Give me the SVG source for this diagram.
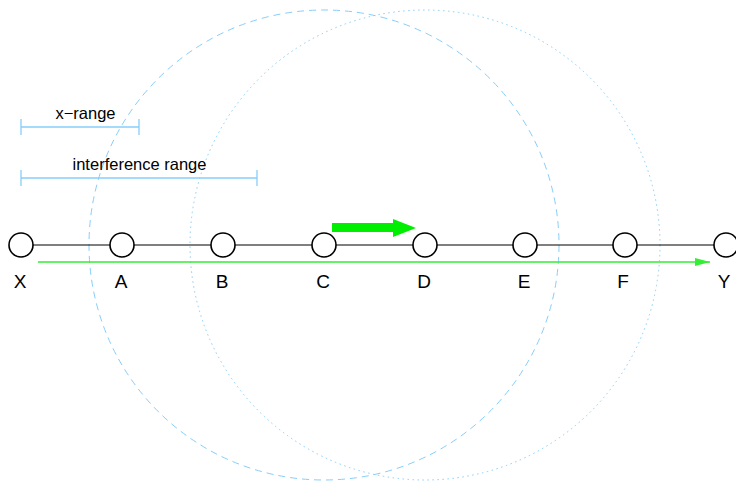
<svg xmlns="http://www.w3.org/2000/svg" width="736" height="483" viewBox="0 0 736 483">
  <style>
    .node circle { fill: #ffffff; stroke: #000000; stroke-width: 1.6; }
    .lbl { font-family: "Liberation Sans", Arial, sans-serif; font-size: 19px; fill: #000000; text-anchor: middle; }
    .rlbl { font-family: "Liberation Sans", Arial, sans-serif; font-size: 16.5px; fill: #000000; text-anchor: middle; }
    .range { stroke: #87cefa; stroke-width: 1.3; fill: none; }
  </style>
  <defs>
    <marker id="headThin" markerWidth="15" markerHeight="8" refX="15" refY="4" orient="auto" markerUnits="userSpaceOnUse">
      <polygon points="0,0 15,4 0,8" fill="#33ee33"/>
    </marker>
  </defs>
  <rect width="736" height="483" fill="#ffffff"/>

  <!-- coverage circles -->
  <g id="ranges">
    <circle cx="324" cy="245" r="235" fill="none" stroke="#87cefa" stroke-width="1" stroke-dasharray="7,5"/>
    <circle cx="425" cy="245" r="235" fill="none" stroke="#87cefa" stroke-width="1" stroke-dasharray="1.5,3.5"/>
  </g>

  <!-- range scale bars -->
  <g id="x-range">
    <path class="range" d="M21,127 H139 M21,119 V135 M139,119 V135"/>
    <text class="rlbl" x="85.5" y="119">x−range</text>
  </g>
  <g id="interference-range">
    <path class="range" d="M21,178 H257 M21,170 V186 M257,170 V186"/>
    <text class="rlbl" x="139.5" y="170">interference range</text>
  </g>

  <!-- connectors -->
  <g id="connectors">
    <line x1="21" y1="245" x2="726" y2="245" stroke="#000000" stroke-width="1"/>
    <line x1="38" y1="262" x2="710" y2="262" stroke="#33ee33" stroke-width="1.5" marker-end="url(#headThin)"/>
    <polygon points="332,223 393,223 393,219 416,228 393,237 393,232 332,232" fill="#00ee00"/>
  </g>

  <!-- nodes -->
  <g id="X" class="node"><circle cx="21" cy="245" r="12"/><text class="lbl" x="20" y="288">X</text></g>
  <g id="A" class="node"><circle cx="122" cy="245" r="12"/><text class="lbl" x="121" y="288">A</text></g>
  <g id="B" class="node"><circle cx="223" cy="245" r="12"/><text class="lbl" x="222" y="288">B</text></g>
  <g id="C" class="node"><circle cx="324" cy="245" r="12"/><text class="lbl" x="323" y="288">C</text></g>
  <g id="D" class="node"><circle cx="425" cy="245" r="12"/><text class="lbl" x="424" y="288">D</text></g>
  <g id="E" class="node"><circle cx="525" cy="245" r="12"/><text class="lbl" x="524" y="288">E</text></g>
  <g id="F" class="node"><circle cx="625" cy="245" r="12"/><text class="lbl" x="623" y="288">F</text></g>
  <g id="Y" class="node"><circle cx="726" cy="245" r="12"/><text class="lbl" x="724" y="288">Y</text></g>
</svg>
